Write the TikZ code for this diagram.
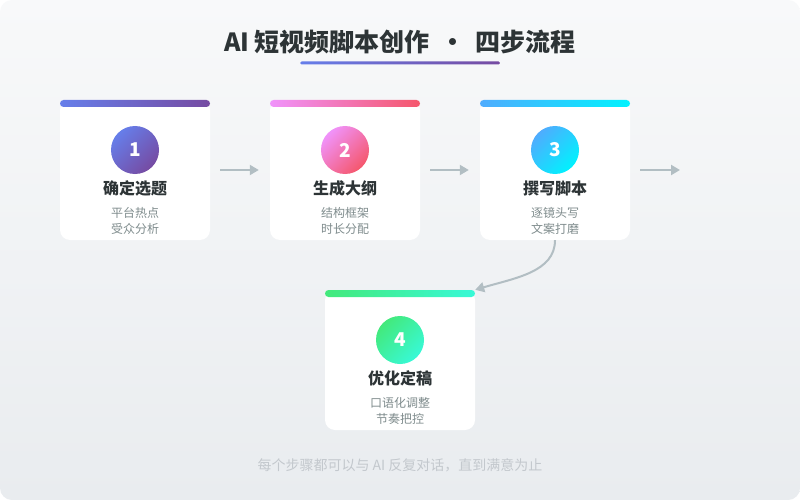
\documentclass[tikz,border=0pt]{standalone}
\usepackage{fontspec}
\setmainfont{Noto Sans CJK SC}
\usetikzlibrary{arrows.meta}
\definecolor{bgtop}{HTML}{F8F9FA}
\definecolor{bgbot}{HTML}{E9ECEF}
\definecolor{pa}{HTML}{667EEA}
\definecolor{pb}{HTML}{764BA2}
\definecolor{ka}{HTML}{F093FB}
\definecolor{kb}{HTML}{F5576C}
\definecolor{ba}{HTML}{4FACFE}
\definecolor{bb}{HTML}{00F2FE}
\definecolor{ga}{HTML}{43E97B}
\definecolor{gb}{HTML}{38F9D7}
\definecolor{ink}{HTML}{2D3436}
\definecolor{subink}{HTML}{7F8C8D}
\definecolor{footink}{HTML}{C3C8CD}
\definecolor{arrowc}{HTML}{B2BEC3}
\tikzset{
  card/.style={fill=white, rounded corners=10pt, minimum width=150pt, minimum height=140pt, inner sep=0pt},
  topbar/.style={rounded corners=3.5pt, minimum width=150pt, minimum height=7pt, inner sep=0pt},
  numdot/.style={circle, minimum size=48pt, inner sep=0pt, text=white, font=\fontsize{19}{19}\selectfont\bfseries},
  steptitle/.style={text=ink, font=\fontsize{16}{16}\selectfont\bfseries, inner sep=0pt},
  stepsub/.style={text=subink, font=\fontsize{12}{16}\selectfont, align=center, inner sep=0pt},
  flow/.style={draw=arrowc, line width=2pt, -{Triangle[length=9pt,width=10pt]}}
}
\begin{document}
\begin{tikzpicture}[x=1pt,y=-1pt]
\useasboundingbox (0,0) rectangle (800,500);
\fill[white] (0,0) rectangle (800,500);
\shade[rounded corners=12pt, top color=bgtop, bottom color=bgbot] (0,0) rectangle (800,500);

% title
\node[text=ink, font=\fontsize{25}{25}\selectfont\bfseries, inner sep=0pt] (title) at (400,42)
  {AI 短视频脚本创作\hspace{0.42em}•\hspace{0.42em}四步流程};
\shade[rounded corners=1.5pt, left color=pa, right color=pb] (300,61.5) rectangle (500,64.5);

% cards
\node[card] (c1) at (135,170) {};
\node[card] (c2) at (345,170) {};
\node[card] (c3) at (555,170) {};
\node[card] (c4) at (400,360) {};

\node[topbar, left color=pa, right color=pb] (b1) at (135,103.5) {};
\node[topbar, left color=ka, right color=kb] (b2) at (345,103.5) {};
\node[topbar, left color=ba, right color=bb] (b3) at (555,103.5) {};
\node[topbar, left color=ga, right color=gb] (b4) at (400,293.5) {};

\node[numdot, left color=pa, right color=pb, shading angle=45] (n1) at (135,150) {1};
\node[numdot, left color=ka, right color=kb, shading angle=45] (n2) at (345,150) {2};
\node[numdot, left color=ba, right color=bb, shading angle=45] (n3) at (555,150) {3};
\node[numdot, left color=ga, right color=gb, shading angle=45] (n4) at (400,340) {4};

\node[steptitle] (t1) at (135,188) {确定选题};
\node[steptitle] (t2) at (345,188) {生成大纲};
\node[steptitle] (t3) at (555,188) {撰写脚本};
\node[steptitle] (t4) at (400,378) {优化定稿};

\node[stepsub] (s1) at (135,221) {平台热点\\受众分析};
\node[stepsub] (s2) at (345,221) {结构框架\\时长分配};
\node[stepsub] (s3) at (555,221) {逐镜头写\\文案打磨};
\node[stepsub] (s4) at (400,411) {口语化调整\\节奏把控};

% connectors
\coordinate (tail) at (690,170);
\draw[flow, shorten <=10pt, shorten >=11pt] (c1.east) -- (c2.west);
\draw[flow, shorten <=10pt, shorten >=11pt] (c2.east) -- (c3.west);
\draw[flow, shorten <=10pt, shorten >=10pt] (c3.east) -- (tail);
\draw[flow] (c3.south) .. controls (555,272) and (515,278) .. (b4.north east);

% footer
\node[text=footink, font=\fontsize{14}{14}\selectfont, inner sep=0pt] (foot) at (400,465)
  {每个步骤都可以与 AI 反复对话，直到满意为止};
\end{tikzpicture}
\end{document}
